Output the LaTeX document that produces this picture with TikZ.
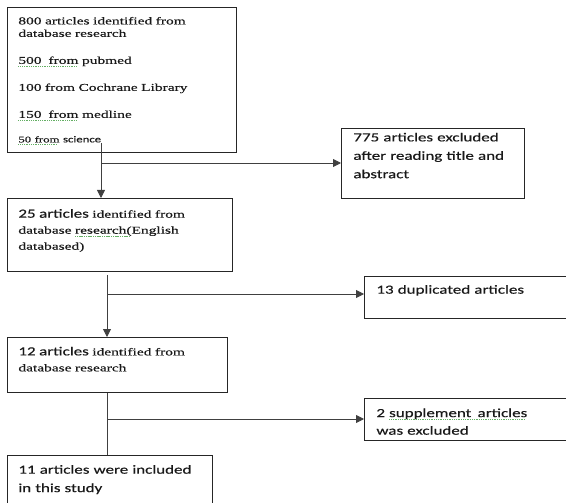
\documentclass[tikz,border=0pt]{standalone}
\usepackage{fontspec}
\usetikzlibrary{arrows.meta}
\setmainfont[FakeStretch=1.47,FakeBold=0.5]{Liberation Serif}
\newfontfamily\calfont[FakeStretch=1.37,FakeBold=0.4]{Carlito}
\definecolor{spellgreen}{RGB}{100,175,100}
\newcommand\bodyserif{\fontsize{10.5}{12.5}\selectfont}
\newcommand\bodysans{\calfont\fontsize{12.4}{18.4}\selectfont}
\newsavebox\spellbox
\newcommand\spellmark[1]{\leavevmode\sbox\spellbox{#1}\rlap{\color{spellgreen}\leaders\hbox{\rule[-2.6pt]{1.1pt}{0.7pt}\kern0.7pt}\hskip\wd\spellbox}\usebox\spellbox}

\def\trunkA{101}
\def\trunkB{107}

\begin{document}
\begin{tikzpicture}[x=1pt, y=-1pt, >={Triangle[length=8pt,width=8pt]},
    box/.style={draw=black!85, line width=0.8pt, anchor=north west, align=left,
      inner ysep=0pt, text=black!90},
    serifbox/.style={box, inner xsep=11pt, font=\fontsize{10.5}{16}\selectfont},
    sansbox/.style={box, inner xsep=12pt, font=\bodysans},
    flow/.style={draw=black!75, line width=0.8pt}]
  \clip (0,0) rectangle (566,503);
  \node[serifbox, font=\bodyserif, text width=207pt, text height=17pt, text depth=128pt]
    (search) at (7,7) {800 articles identified from\\database research\\[14.5pt]
      \spellmark{500\ \ from} pubmed\\[14.5pt]100 from Cochrane Library\\[14.5pt]
      \spellmark{150\ \ from} medline\\[12pt]
      {\fontsize{8.7}{10}\selectfont\spellmark{50 from}} {\calfont\fontsize{9.3}{10}\selectfont science}};
  \node[sansbox, text width=159pt, text height=13pt, text depth=57pt]
    (excluded) at (341,128) {775 articles excluded\\after reading title and\\abstract};
  \node[serifbox, text width=203pt, text height=19.3pt, text depth=53.7pt]
    (english) at (7,198) {{\bodysans 25 articles} identified from\\
      database \spellmark{research(}English\\databased)};
  \node[sansbox, text width=196pt, text height=17.3pt, text depth=24.7pt]
    (duplicates) at (364,276) {13 duplicated articles};
  \node[serifbox, text width=198pt, text height=18pt, text depth=37pt]
    (twelve) at (7,337) {{\bodysans 12 articles} identified from\\database research};
  \node[sansbox, font=\calfont\fontsize{12.4}{17.6}\selectfont, text width=196pt,
    text height=18.7pt, text depth=23.3pt]
    (supplement) at (364,398) {2 \spellmark{supplement\enspace articles}\\was excluded};
  \node[sansbox, inner xsep=11pt, text width=183pt, text height=18.3pt, text depth=60pt]
    (included) at (7,455) {11 articles were included\\in this study};

  \coordinate (top1) at (\trunkA,143);
  \coordinate (split1) at (\trunkA,163);
  \coordinate (top2) at (\trunkB,275);
  \coordinate (split2) at (\trunkB,294);
  \coordinate (split3) at (\trunkB,419);
  \draw[flow,->] (top1) -- (top1 |- english.north);
  \draw[flow,->] (split1) -- (split1 -| excluded.west);
  \draw[flow,->] (top2) -- (top2 |- twelve.north);
  \draw[flow,->] (split2) -- (split2 -| duplicates.west);
  \draw[flow] (top2 |- twelve.south) -- (top2 |- included.north);
  \draw[flow,->] (split3) -- (split3 -| supplement.west);
\end{tikzpicture}
\end{document}
